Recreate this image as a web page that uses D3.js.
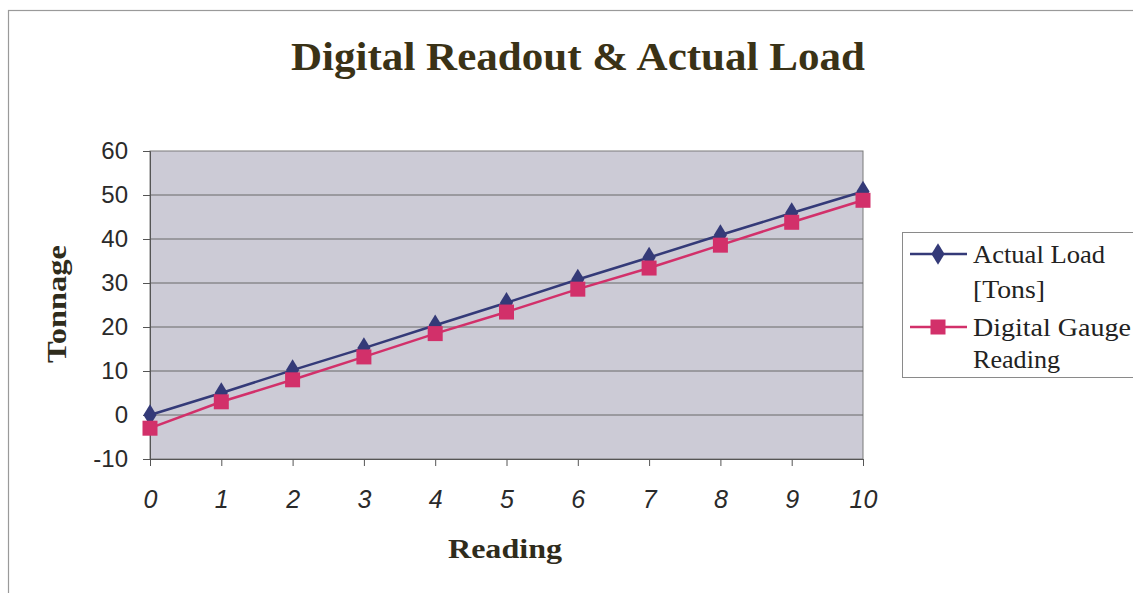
<!DOCTYPE html>
<html><head><meta charset="utf-8">
<script src="https://cdn.jsdelivr.net/npm/d3@7"></script>
<style>html,body{margin:0;padding:0;background:#fff;}svg{display:block;}</style>
</head><body>
<svg id="chart" width="1133" height="593"></svg>
<script>
const readings = [0,1,2,3,4,5,6,7,8,9,10];
const actualLoad = [0, 5, 10.2, 15.2, 20.4, 25.5, 30.8, 35.8, 40.9, 45.9, 50.8];
const gaugeReading = [-3, 3, 8, 13.2, 18.5, 23.4, 28.6, 33.4, 38.6, 43.8, 48.8];
const yTicks = [-10,0,10,20,30,40,50,60];
const seriesNames = ["Actual Load [Tons]", "Digital Gauge Reading"];
const legendLines = [["Actual Load","[Tons]"],["Digital Gauge","Reading"]];
const colors = ["#343a78", "#d2306a"];

const serif = "Liberation Serif, Times New Roman, serif";
const sans = "Liberation Sans, Arial, sans-serif";
const svg = d3.select("#chart");
// outer chart border
svg.append("rect").attr("x",8.5).attr("y",10.5).attr("width",1140).attr("height",600)
  .attr("fill","#fff").attr("stroke","#9a9a9a").attr("stroke-width",1.2);

const L=150, R=863, T=151, B=459;
const x = d3.scaleLinear().domain([0,10]).range([L,R]);
const y = d3.scaleLinear().domain([-10,60]).range([B,T]);

svg.append("rect").attr("x",L).attr("y",T).attr("width",R-L).attr("height",B-T)
  .attr("fill","#cccbd6").attr("stroke","#7a7a7a").attr("stroke-width",1);

// gridlines
svg.append("g").selectAll("line").data(yTicks.filter(d=>d>-10 && d<60)).join("line")
  .attr("x1",L).attr("x2",R).attr("y1",d=>y(d)).attr("y2",d=>y(d))
  .attr("stroke","#686868").attr("stroke-width",1);

// y axis
const yAxis = svg.append("g").attr("transform",`translate(${L},0)`)
  .call(d3.axisLeft(y).tickValues(yTicks).tickSize(7).tickPadding(15).tickFormat(d=>String(d)));
yAxis.select(".domain").attr("stroke","#555");
yAxis.selectAll(".tick line").attr("stroke","#555");
yAxis.selectAll("text").attr("font-family",sans).attr("font-size",24).attr("fill","#2a2a2a");

// x axis
const xAxis = svg.append("g").attr("transform",`translate(0,${B})`)
  .call(d3.axisBottom(x).tickValues(readings).tickSize(7).tickPadding(24).tickFormat(d=>String(d)));
xAxis.select(".domain").attr("stroke","#555");
xAxis.selectAll(".tick line").attr("stroke","#555");
xAxis.selectAll("text").attr("font-family",sans).attr("font-size",25)
  .attr("font-style","italic").attr("fill","#2a2a2a");

// title
svg.append("text").attr("x",578).attr("y",70).attr("text-anchor","middle")
  .attr("font-family",serif).attr("font-weight","bold")
  .attr("font-size",39).attr("textLength",574).attr("lengthAdjust","spacingAndGlyphs")
  .attr("fill","#3a3216").text("Digital Readout & Actual Load");

// axis titles
svg.append("text").attr("transform","translate(66,304) rotate(-90)").attr("text-anchor","middle")
  .attr("font-family",serif).attr("font-weight","bold")
  .attr("font-size",28).attr("textLength",118).attr("lengthAdjust","spacingAndGlyphs")
  .attr("fill","#2f2c1c").text("Tonnage");
svg.append("text").attr("x",505).attr("y",558).attr("text-anchor","middle")
  .attr("font-family",serif).attr("font-weight","bold")
  .attr("font-size",27).attr("textLength",114).attr("lengthAdjust","spacingAndGlyphs")
  .attr("fill","#2f2c1c").text("Reading");

// lines & markers
const data = [actualLoad, gaugeReading];
const line = d3.line().x((d,i)=>x(readings[i])).y(d=>y(d));
data.forEach((s,k)=>{
  svg.append("path").datum(s).attr("d",line).attr("fill","none").attr("stroke",colors[k]).attr("stroke-width",2.5);
});
svg.append("g").selectAll("path").data(actualLoad).join("path")
  .attr("transform",(d,i)=>`translate(${x(readings[i])},${y(d)}) scale(1,0.95)`)
  .attr("d",d3.symbol().type(d3.symbolDiamond).size(150)).attr("fill",colors[0]);
svg.append("g").selectAll("rect").data(gaugeReading).join("rect")
  .attr("x",(d,i)=>x(readings[i])-7.5).attr("y",d=>y(d)-7.5).attr("width",15).attr("height",15)
  .attr("fill",colors[1]);

// legend
const lg = svg.append("g");
lg.append("rect").attr("x",902.5).attr("y",232.5).attr("width",240).attr("height",145)
  .attr("fill","#fff").attr("stroke","#8a8a8a").attr("stroke-width",1);
const legY = [254, 327];
const legBase = [[263, 298],[336, 368]];
const legLen = [[132, 72],[158, 87]];
seriesNames.forEach((n,k)=>{
  const g = lg.append("g");
  g.append("line").attr("x1",910).attr("x2",967).attr("y1",legY[k]).attr("y2",legY[k])
    .attr("stroke",colors[k]).attr("stroke-width",2.5);
  if(k===0){
    g.append("path").attr("transform",`translate(938,${legY[k]}) scale(1,0.95)`)
      .attr("d",d3.symbol().type(d3.symbolDiamond).size(150)).attr("fill",colors[k]);
  } else {
    g.append("rect").attr("x",930.5).attr("y",legY[k]-7.5).attr("width",15).attr("height",15).attr("fill",colors[k]);
  }
  legendLines[k].forEach((ln,j)=>{
    g.append("text").attr("x",973).attr("y",legBase[k][j])
      .attr("font-family",serif).attr("font-size",25).attr("fill","#222")
      .attr("textLength",legLen[k][j]).attr("lengthAdjust","spacingAndGlyphs").text(ln);
  });
});
</script>
</body></html>
